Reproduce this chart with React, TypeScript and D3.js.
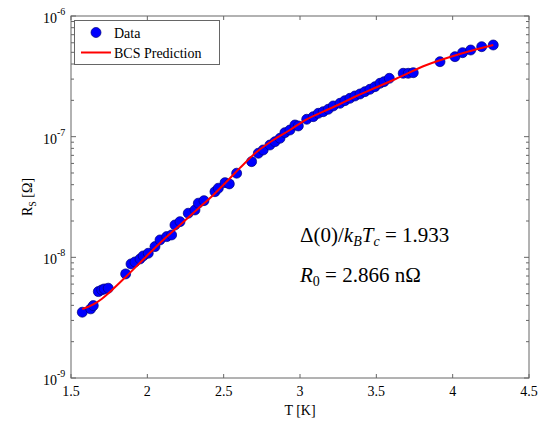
import React from "react";
import * as d3 from "d3";

// measured surface resistance vs temperature
const tempK = [
  1.574, 1.629, 1.646, 1.679, 1.701, 1.718, 1.744, 1.858, 1.893, 1.919, 1.952,
  1.973, 2.006, 2.05, 2.083, 2.127, 2.159, 2.181, 2.214, 2.268, 2.312, 2.334,
  2.371, 2.443, 2.465, 2.509, 2.537, 2.585, 2.683, 2.727, 2.759, 2.803, 2.836,
  2.869, 2.901, 2.934, 2.967, 2.989, 3.044, 3.087, 3.12, 3.152, 3.185, 3.218,
  3.262, 3.294, 3.327, 3.36, 3.393, 3.425, 3.458, 3.491, 3.524, 3.55, 3.585,
  3.676, 3.709, 3.742, 3.917, 4.015, 4.065, 4.118, 4.19, 4.266,
];
const rsOhm = [
  3.51e-9, 3.74e-9, 3.98e-9, 5.2e-9, 5.37e-9, 5.47e-9, 5.55e-9, 7.29e-9,
  8.82e-9, 9.16e-9, 9.7e-9, 1.027e-8, 1.081e-8, 1.227e-8, 1.394e-8, 1.485e-8,
  1.533e-8, 1.855e-8, 1.976e-8, 2.32e-8, 2.47e-8, 2.81e-8, 2.95e-8, 3.5e-8,
  3.74e-8, 4.16e-8, 4.06e-8, 4.98e-8, 6.21e-8, 7.29e-8, 7.76e-8, 8.53e-8,
  9.09e-8, 9.7e-8, 1.08e-7, 1.136e-7, 1.25e-7, 1.227e-7, 1.394e-7, 1.465e-7,
  1.562e-7, 1.611e-7, 1.687e-7, 1.797e-7, 1.891e-7, 1.988e-7, 2.08e-7,
  2.174e-7, 2.258e-7, 2.36e-7, 2.47e-7, 2.596e-7, 2.77e-7, 2.856e-7, 3.046e-7,
  3.352e-7, 3.352e-7, 3.39e-7, 4.182e-7, 4.602e-7, 4.966e-7, 5.227e-7,
  5.568e-7, 5.751e-7,
];

// BCS prediction curve
const fitT = [
  1.574, 1.646, 1.701, 1.755, 1.865, 1.996, 2.104, 2.214, 2.323, 2.432, 2.541,
  2.607, 2.716, 2.825, 2.934, 3.044, 3.152, 3.262, 3.371, 3.502, 3.611, 3.829,
  4.047, 4.266,
];
const fitRs = [
  3.72e-9, 4.07e-9, 4.52e-9, 5.17e-9, 7.01e-9, 1.027e-8, 1.394e-8, 1.855e-8,
  2.47e-8, 3.29e-8, 4.52e-8, 5.51e-8, 7.47e-8, 9.39e-8, 1.136e-7, 1.394e-7,
  1.611e-7, 1.866e-7, 2.174e-7, 2.566e-7, 2.95e-7, 3.926e-7, 4.845e-7,
  5.751e-7,
];

const xTicks = [1.5, 2, 2.5, 3, 3.5, 4, 4.5];
const yExponents = [-9, -8, -7, -6];

const W = 552;
const H = 422;
const m = { left: 71, right: 529, top: 16, bottom: 378 };
const font = "'Times New Roman', 'Liberation Serif', 'DejaVu Serif', serif";
const axisColor = "#666";

const App = () => {
  const x = d3.scaleLinear().domain([1.5, 4.5]).range([m.left, m.right]);
  const y = d3.scaleLog().domain([1e-9, 1e-6]).range([m.bottom, m.top]);

  const minorTicks: number[] = [];
  [-9, -8, -7].forEach((e) => {
    for (let k = 2; k <= 9; k++) minorTicks.push(k * Math.pow(10, e));
  });

  const line = d3
    .line<number>()
    .x((d, i) => x(fitT[i]))
    .y((d) => y(d))
    .curve(d3.curveMonotoneX);

  return (
    <svg
      width={W}
      height={H}
      style={{ position: "absolute", left: 0, top: 0, background: "#fff", fontFamily: font }}
    >
      <rect x={0} y={0} width={W} height={H} fill="#fff" />

      {/* ticks */}
      {xTicks.map((t) => (
        <g key={"xt" + t}>
          <line x1={x(t)} x2={x(t)} y1={m.bottom} y2={m.bottom - 4} stroke={axisColor} />
          <line x1={x(t)} x2={x(t)} y1={m.top} y2={m.top + 4} stroke={axisColor} />
          <text x={x(t)} y={m.bottom + 18} fontSize={14} textAnchor="middle">
            {t}
          </text>
        </g>
      ))}
      {yExponents.map((e) => {
        const yy = y(Math.pow(10, e));
        return (
          <g key={"yt" + e}>
            <line x1={m.left} x2={m.left + 5} y1={yy} y2={yy} stroke={axisColor} />
            <line x1={m.right} x2={m.right - 5} y1={yy} y2={yy} stroke={axisColor} />
            <text x={57} y={yy + 7} fontSize={14} textAnchor="end">
              10
            </text>
            <text x={57} y={yy - 1} fontSize={10}>
              {"-" + Math.abs(e)}
            </text>
          </g>
        );
      })}
      {minorTicks.map((v, i) => (
        <g key={"mt" + i}>
          <line x1={m.left} x2={m.left + 3} y1={y(v)} y2={y(v)} stroke={axisColor} />
          <line x1={m.right} x2={m.right - 3} y1={y(v)} y2={y(v)} stroke={axisColor} />
        </g>
      ))}

      {/* data */}
      {tempK.map((t, i) => (
        <circle
          key={"p" + i}
          cx={x(t)}
          cy={y(rsOhm[i])}
          r={5}
          fill="#0000ff"
          stroke="#00007a"
          strokeWidth={0.7}
        />
      ))}
      <path d={line(fitRs) || ""} fill="none" stroke="#ff0000" strokeWidth={2} />

      {/* frame */}
      <rect
        x={m.left}
        y={m.top}
        width={m.right - m.left}
        height={m.bottom - m.top}
        fill="none"
        stroke={axisColor}
      />

      {/* labels */}
      <text x={300} y={415} fontSize={14} textAnchor="middle">
        T [K]
      </text>
      <text transform="translate(32,197) rotate(-90)" fontSize={14} textAnchor="middle">
        R<tspan fontSize={10} dy={4}>S</tspan>
        <tspan dy={-4}> [Ω]</tspan>
      </text>

      {/* legend */}
      <rect x={74.5} y={20.5} width={145} height={44} fill="#fff" stroke={axisColor} />
      <circle cx={96} cy={32.5} r={5} fill="#0000ff" stroke="#00007a" strokeWidth={0.7} />
      <text x={114} y={38} fontSize={14}>
        Data
      </text>
      <line x1={81} x2={111} y1={52.5} y2={52.5} stroke="#ff0000" strokeWidth={2} />
      <text x={114} y={58} fontSize={14}>
        BCS Prediction
      </text>

      {/* annotation */}
      <text x={300} y={242} fontSize={21}>
        Δ(0)/<tspan fontStyle="italic">k</tspan>
        <tspan fontStyle="italic" fontSize={14} dy={4}>B</tspan>
        <tspan fontStyle="italic" dy={-4}>T</tspan>
        <tspan fontStyle="italic" fontSize={14} dy={4}>c</tspan>
        <tspan dy={-4}> = 1.933</tspan>
      </text>
      <text x={300} y={282} fontSize={21}>
        <tspan fontStyle="italic">R</tspan>
        <tspan fontSize={14} dy={4}>0</tspan>
        <tspan dy={-4}> = 2.866 nΩ</tspan>
      </text>
    </svg>
  );
};

export default App;
